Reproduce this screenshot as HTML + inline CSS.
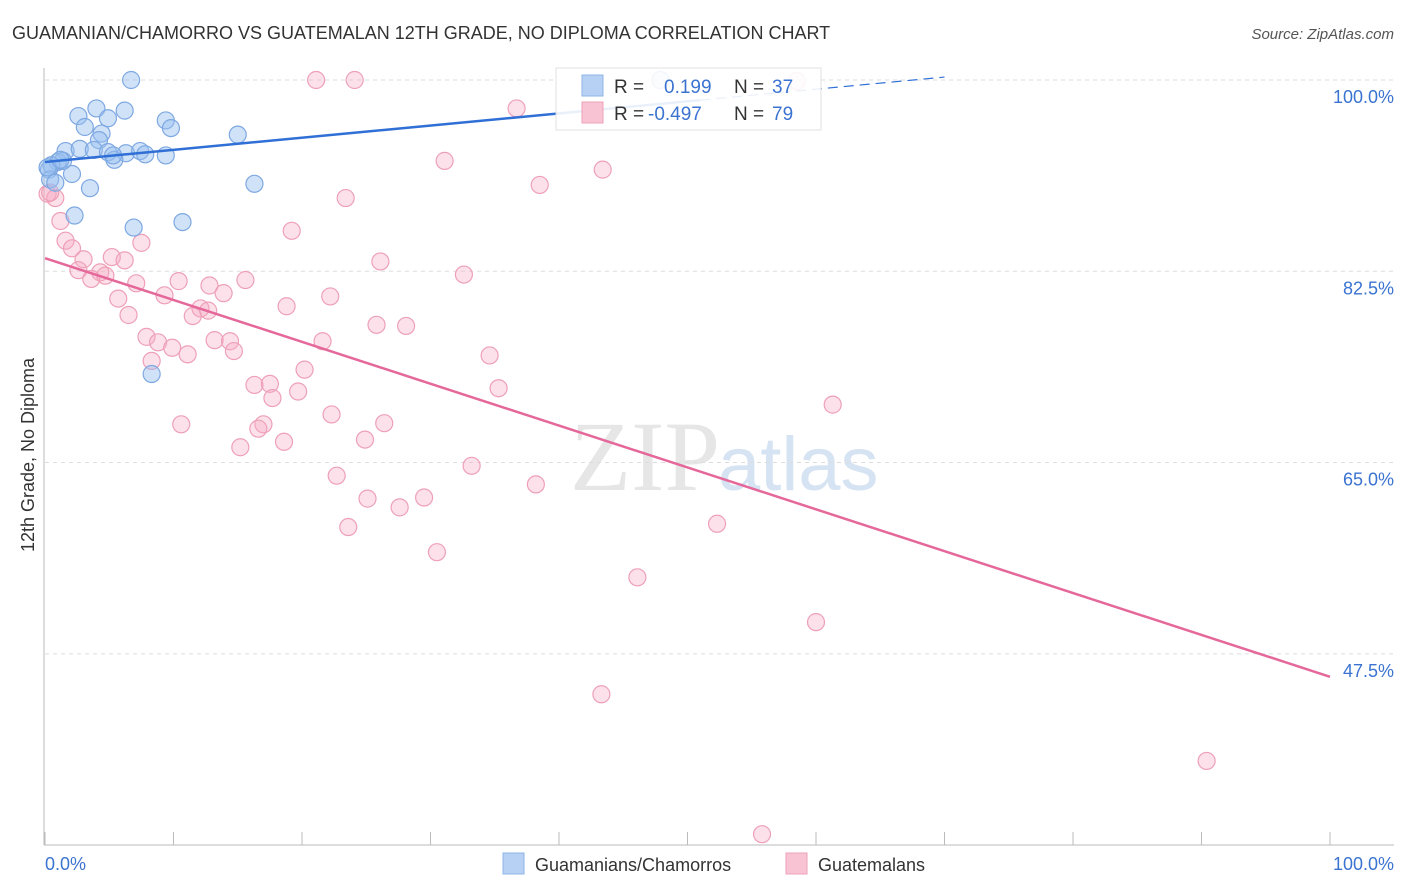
<!DOCTYPE html>
<html><head><meta charset="utf-8"><style>
body{margin:0;background:#fff;font-family:"Liberation Sans",sans-serif;}
svg{display:block}
</style></head><body>
<svg id="chart" width="1406" height="892">
<text x="12" y="39" font-size="18" fill="#333">GUAMANIAN/CHAMORRO VS GUATEMALAN 12TH GRADE, NO DIPLOMA CORRELATION CHART</text>
<text x="1394" y="39" font-size="15" fill="#555" font-style="italic" text-anchor="end">Source: ZipAtlas.com</text>
<text x="720" y="490" font-size="100" fill="#e6e6e6" text-anchor="end" font-family="Liberation Serif">ZIP</text>
<text x="718" y="490" font-size="76" fill="#d6e3f3">atlas</text>
<g id="grid"></g><g id="axes"></g><g id="marks"></g><g id="lines"></g>
<text transform="translate(34,455) rotate(-90)" font-size="18" fill="#333" text-anchor="middle">12th Grade, No Diploma</text>
<text x="45" y="870" font-size="18" fill="#3b73d0">0.0%</text>
<text x="1394" y="870" font-size="18" fill="#3b73d0" text-anchor="end">100.0%</text>
<g>
<rect x="556" y="68" width="265" height="62" fill="#fff" stroke="#ddd" opacity="0.9"/>
<rect x="582" y="75" width="21" height="21" fill="#b7d1f5" stroke="#8fb4e8"/>
<rect x="582" y="102" width="21" height="21" fill="#f8c4d4" stroke="#eea0b8"/>
<text x="614" y="93" font-size="19" fill="#333">R = </text><text x="664" y="93" font-size="19" fill="#3b73d0">0.199</text>
<text x="734" y="93" font-size="19" fill="#333">N = </text><text x="772" y="93" font-size="19" fill="#3b73d0">37</text>
<text x="614" y="120" font-size="19" fill="#333">R = </text><text x="648" y="120" font-size="19" fill="#3b73d0">-0.497</text>
<text x="734" y="120" font-size="19" fill="#333">N = </text><text x="772" y="120" font-size="19" fill="#3b73d0">79</text>
</g>
<g>
<rect x="503" y="853" width="21" height="21" fill="#b7d1f5" stroke="#8fb4e8"/>
<text x="535" y="871" font-size="18" fill="#333">Guamanians/Chamorros</text>
<rect x="786" y="853" width="21" height="21" fill="#f8c4d4" stroke="#eea0b8"/>
<text x="818" y="871" font-size="18" fill="#333">Guatemalans</text>
</g>
</svg>
<script>
const yTicks=[100,82.5,65,47.5];
const yTickLabels=["100.0%","82.5%","65.0%","47.5%"];
const xTicks=[0,10,20,30,40,50,60,70,80,90,100];
const blueX=[6.7,47.9,2.6,4.0,6.2,4.9,9.4,9.8,3.1,4.4,15.0,4.2,1.6,2.7,3.8,4.9,6.3,7.4,7.8,9.4,5.4,5.3,1.0,1.4,0.5,0.3,2.1,0.4,3.5,16.3,2.3,6.9,10.7,8.3,0.2,1.2,0.8];
const blueY=[100,100,96.7,97.4,97.2,96.5,96.3,95.6,95.7,95.1,95.0,94.5,93.5,93.7,93.6,93.4,93.3,93.5,93.2,93.1,92.7,93.1,92.5,92.6,92.2,91.8,91.4,90.9,90.1,90.5,87.6,86.5,87.0,73.1,92.0,92.7,90.6];
const pinkX=[21.1,24.1,58.5,36.7,31.1,43.4,38.5,23.4,0.2,0.8,1.2,19.2,1.6,2.1,7.5,3.0,5.2,6.2,26.1,2.6,4.3,3.6,4.7,32.6,7.1,10.4,15.6,12.8,13.9,9.3,22.2,5.7,18.8,12.1,12.7,11.5,6.5,25.8,28.1,7.9,8.8,21.6,13.2,14.4,9.9,11.1,14.7,8.3,34.6,20.2,16.3,17.5,19.7,17.7,35.3,61.3,22.3,10.6,17.0,16.6,26.4,18.6,24.9,15.2,33.2,22.7,38.2,25.1,29.5,27.6,23.6,52.3,30.5,46.1,60.0,43.3,90.4,55.8,0.4];
const pinkY=[100,100,99.9,97.4,92.6,91.8,90.4,89.2,89.6,89.2,87.1,86.2,85.3,84.6,85.1,83.6,83.8,83.5,83.4,82.6,82.4,81.8,82.1,82.2,81.4,81.6,81.7,81.2,80.5,80.3,80.2,80.0,79.3,79.1,78.9,78.4,78.5,77.6,77.5,76.5,76.0,76.1,76.2,76.1,75.5,74.9,75.2,74.3,74.8,73.5,72.1,72.2,71.5,70.9,71.8,70.3,69.4,68.5,68.5,68.1,68.6,66.9,67.1,66.4,64.7,63.8,63.0,61.7,61.8,60.9,59.1,59.4,56.8,54.5,50.4,43.8,37.7,31.0,89.7];
const blueFit=[92.5,0.111];
const pinkFit=[83.7,45.4];
const X0=45,X1=1330,YT=80,PPU=10.93;
const sx=v=>X0+(X1-X0)*v/100, sy=v=>YT+(100-v)*PPU;
const NS="http://www.w3.org/2000/svg";
function mk(tag,attrs,parent){const e=document.createElementNS(NS,tag);for(const k in attrs)e.setAttribute(k,attrs[k]);document.getElementById(parent).appendChild(e);return e;}
yTicks.forEach((t,i)=>{
 const l=mk('line',{x1:45,x2:1394,y1:sy(t),y2:sy(t),stroke:'#ddd','stroke-dasharray':'4,4'},'grid');
 
 
 const tx=mk('text',{x:1394,y:sy(t)+23,'font-size':18,fill:'#3b73d0','text-anchor':'end'},'grid');
 tx.textContent=yTickLabels[i];
 
 
});
const ax=mk('line',{x1:44,x2:44,y1:68,y2:845,stroke:'#bbb'},'axes');


const bx=mk('line',{x1:44,x2:1394,y1:845,y2:845,stroke:'#bbb'},'axes');


xTicks.forEach(t=>{
 const l=mk('line',{x1:sx(t),x2:sx(t),y1:832,y2:845,stroke:'#bbb'},'axes');
 
 
});
pinkX.forEach((v,i)=>{
 const c=mk('circle',{cx:sx(v),cy:sy(pinkY[i]),r:8.5,fill:'rgba(245,170,195,0.35)',stroke:'#eea0b8','stroke-width':1.2},'marks');
 
 
});
blueX.forEach((v,i)=>{
 const c=mk('circle',{cx:sx(v),cy:sy(blueY[i]),r:8.5,fill:'rgba(150,190,240,0.45)',stroke:'#7ea8e2','stroke-width':1.2},'marks');
 
 
});
const bf=x=>blueFit[0]+blueFit[1]*x;
const bl=mk('line',{x1:sx(0),y1:sy(bf(0)),x2:sx(51),y2:sy(bf(51)),stroke:'#2f6fd6','stroke-width':2.5},'lines');


const bd=mk('line',{x1:sx(51),y1:sy(bf(51)),x2:sx(70),y2:sy(bf(70)),stroke:'#2f6fd6','stroke-width':1.2,'stroke-dasharray':'10,6'},'lines');


const pl=mk('line',{x1:sx(0),y1:sy(pinkFit[0]),x2:sx(100),y2:sy(pinkFit[1]),stroke:'#e5689a','stroke-width':2.5},'lines');


</script>
</body></html>
